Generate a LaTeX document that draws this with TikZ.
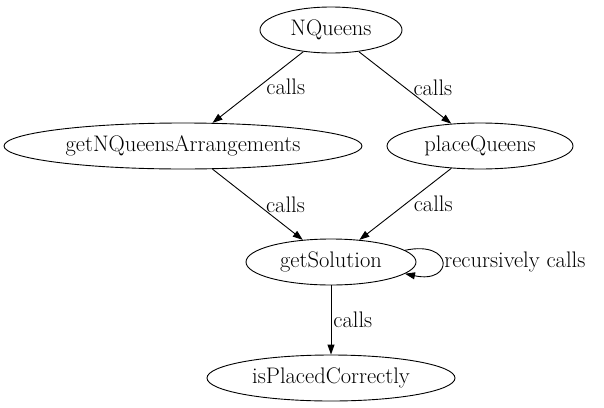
\documentclass[tikz,border=0pt]{standalone}
\usetikzlibrary{arrows.meta, positioning, shapes.geometric}

\begin{document}
\begin{tikzpicture}[
    x=1pt,
    y=-1pt,
    every node/.style={font=\fontsize{22.5}{27}\selectfont},
    funcao/.style={
        ellipse,
        draw=black,
        line width=0.9pt,
        inner sep=1pt,
        minimum height=46pt
    },
    chamada/.style={
        -{Triangle[length=10pt,width=7pt]},
        line width=0.9pt
    },
    rotulo/.style={
        right,
        inner sep=5pt,
        xshift=3pt
    }
]

\useasboundingbox (0,0) rectangle (604,407);

% ============================================================
% FUNCOES
% ============================================================

\node[funcao, minimum width=142pt] (nqueens) at (331,30) {NQueens};

\node[funcao, minimum width=358pt] (arrangements) at (183,146)
{getNQueensArrangements};

\node[funcao, minimum width=186pt] (place) at (480,146)
{placeQueens};

\node[funcao, minimum width=170pt] (solution) at (331,262)
{getSolution};

\node[funcao, minimum width=248pt] (placed) at (331,378)
{isPlacedCorrectly};

% ============================================================
% CHAMADAS
% ============================================================

\draw[chamada] (nqueens) -- node[rotulo]{calls} (arrangements);
\draw[chamada] (nqueens) -- node[rotulo]{calls} (place);
\draw[chamada] (arrangements) -- node[rotulo]{calls} (solution);
\draw[chamada] (place) -- node[rotulo]{calls} (solution);
\draw[chamada] (solution) -- node[rotulo, inner sep=2pt, xshift=-3pt]{calls} (placed);

% Recursao
\draw[chamada]
    (solution.9) to[out=12, in=-12, looseness=5.5]
    node[rotulo, inner sep=1pt, xshift=-2pt]{recursively calls}
    (solution.-9);

\end{tikzpicture}
\end{document}
